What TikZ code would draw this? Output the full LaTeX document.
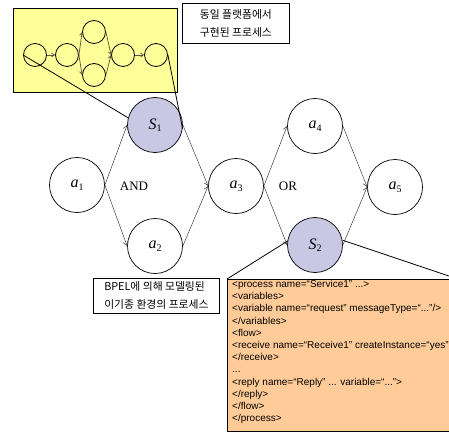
\documentclass[tikz,border=0pt]{standalone}
\usepackage{fontspec}
\setmainfont{Liberation Serif}
\newfontfamily\krfont{Noto Sans CJK KR}
\newfontfamily\codefont{Liberation Sans}
\usetikzlibrary{arrows.meta}
\definecolor{yel}{RGB}{255,255,153}
\definecolor{org}{RGB}{255,204,153}
\definecolor{sfill}{RGB}{200,200,228}
\newcommand\lbl[2]{\textit{#1}\raisebox{-0.35ex}{\fontsize{10}{12}\selectfont #2}}
\tikzset{
  act/.style={circle, draw=black, line width=0.7pt, minimum size=55pt, inner sep=0pt, font=\fontsize{16}{18}\selectfont},
  svc/.style={act, fill=sfill},
  mini/.style={circle, draw=black, line width=0.8pt, minimum size=23pt, inner sep=0pt},
  flow/.style={draw=black!75, line width=0.5pt, -{Straight Barb[length=4pt,width=5pt]}},
  miniflow/.style={line width=0.7pt, -{Straight Barb[length=3pt,width=4pt]}, draw=black!60!yellow!60!black},
  call/.style={draw=black, line width=0.8pt},
  note/.style={draw=black, line width=0.8pt, fill=white, align=left, anchor=north west, inner sep=4pt, font=\krfont\fontsize{10.8}{18}\selectfont},
  gate/.style={font=\fontsize{13}{15}\selectfont}
}
\begin{document}
\begin{tikzpicture}[x=1pt,y=-1pt]
\useasboundingbox (0,0) rectangle (449,433);
\clip (0,0) rectangle (449,433);
% yellow box
\node[draw=black, line width=0.8pt, fill=yel, anchor=north west, minimum width=164pt, minimum height=84pt, inner sep=0pt] (ybox) at (13,8) {};
\node[mini] (c1) at (35,55) {};
\node[mini] (c2) at (67,55) {};
\node[mini] (c3) at (94,32) {};
\node[mini] (c4) at (94,75) {};
\node[mini] (c5) at (123,55) {};
\node[mini] (c6) at (156,55) {};
\draw[miniflow] (c1) -- (c2);
\draw[miniflow] (c2.east) -- (c3.west);
\draw[miniflow] (c2.east) -- (c4.west);
\draw[miniflow] (c3.east) -- (c5.west);
\draw[miniflow] (c4.east) -- (c5.west);
\draw[miniflow] (c5) -- (c6);
% note 1
\node[note, minimum width=107pt, minimum height=40pt] (n1) at (182,3) {동일 플랫폼에서\\구현된 프로세스};
% main nodes
\node[act] (a1) at (77,185) {\lbl{a}{1}};
\node[svc] (S1) at (155,125) {\lbl{S}{1}};
\node[act] (a2) at (155,246) {\lbl{a}{2}};
\node[act] (a3) at (236,186) {\lbl{a}{3}};
\node[act] (a4) at (315,126) {\lbl{a}{4}};
\node[svc] (S2) at (315,245) {\lbl{S}{2}};
\node[act] (a5) at (395,187) {\lbl{a}{5}};
\node[gate] (and) at (134,186) {AND};
\node[gate] (or) at (288,186) {OR};
\draw[flow] (a1.east) -- (S1.west);
\draw[flow] (a1.east) -- (a2.west);
\draw[flow] (S1.east) -- (a3.west);
\draw[flow] (a2.east) -- (a3.west);
\draw[flow] (a3.east) -- (a4.west);
\draw[flow] (a3.east) -- (S2.west);
\draw[flow] (a4.east) -- (a5.west);
\draw[flow] (S2.east) -- (a5.west);
% callouts from yellow box
\draw[call] (c1.west) -- (S1.165);
\draw[call] (c6.east) -- (S1.-8);
% orange code box
\node[draw=black, line width=0.8pt, fill=org, anchor=north west, minimum width=230pt, minimum height=152pt, inner sep=0pt] (code) at (227,279) {};
\node[anchor=north west, align=left, inner sep=0pt, font=\codefont\fontsize{10}{12.2}\selectfont] (codetxt) at (232,280) {%
<process name=“Service1” ...>\\
<variables>\\
<variable name=“request” messageType=“...”/>\\
</variables>\\
<flow>\\
<receive name=“Receive1” createInstance=“yes”>\\
</receive>\\
...\\
<reply name=“Reply” ... variable=“...”>\\
</reply>\\
</flow>\\
</process>};
\draw[call] (S2.172) -- (code.north west);
\draw[call] (S2.10) -- (code.north east);
% note 2
\node[note, minimum width=126pt, minimum height=35pt, inner sep=3pt] (n2) at (93,278) {BPEL에 의해 모델링된\\이기종 환경의 프로세스};
\end{tikzpicture}
\end{document}
